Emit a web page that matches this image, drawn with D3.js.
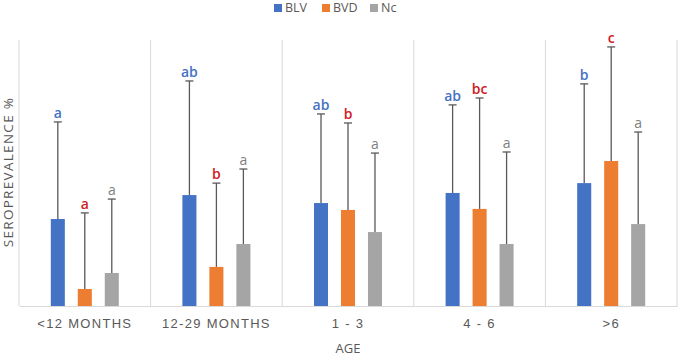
<!DOCTYPE html>
<html>
<head>
<meta charset="utf-8">
<script src="https://cdn.jsdelivr.net/npm/d3@7"></script>
<style>
  body { margin: 0; background: #fff; }
  svg { display: block; font-family: "Open Sans", "Noto Sans", sans-serif; }
</style>
</head>
<body>
<div id="chart"></div>
<script>
const ageGroups = ['<12 MONTHS', '12-29 MONTHS', '1 - 3', '4 - 6', '>6'];
const seriesKeys = ['BLV', 'BVD', 'Nc'];

// seroprevalence (%) per age group, and the + error bar size
const blvValues = [32.7, 41.7, 38.7, 42.5, 46.2];
const bvdValues = [6.4, 14.7, 36.1, 36.5, 54.5];
const ncValues = [12.4, 23.3, 27.8, 23.3, 30.8];

const blvErrors = [36.5, 42.9, 33.5, 33.1, 37.3];
const bvdErrors = [28.6, 31.5, 32.7, 41.7, 42.9];
const ncErrors = [27.8, 28.2, 29.7, 34.6, 34.6];

// significance letters
const blvLetters = ['a', 'ab', 'ab', 'ab', 'b'];
const bvdLetters = ['a', 'b', 'b', 'bc', 'c'];
const ncLetters = ['a', 'a', 'a', 'a', 'a'];

const valuesByKey = { BLV: blvValues, BVD: bvdValues, Nc: ncValues };
const errorsByKey = { BLV: blvErrors, BVD: bvdErrors, Nc: ncErrors };
const lettersByKey = { BLV: blvLetters, BVD: bvdLetters, Nc: ncLetters };

const rows = ageGroups.map((age, i) => ({
    age,
    bars: seriesKeys.map(key => ({
        key,
        value: valuesByKey[key][i],
        error: errorsByKey[key][i],
        letter: lettersByKey[key][i]
    }))
}));

const width = 680;
const height = 357;
const margin = { top: 40, right: 3, bottom: 51, left: 19 };

const colorScale = d3.scaleOrdinal()
    .domain(seriesKeys)
    .range(['#4472C4', '#ED7D31', '#A5A5A5']);

const letterColor = d3.scaleOrdinal()
    .domain(seriesKeys)
    .range(['#4472C4', '#D0201F', '#808080']);

const svg = d3.select('#chart')
    .append('svg')
    .attr('width', width)
    .attr('height', height);

const x0 = d3.scaleBand()
    .domain(ageGroups)
    .range([margin.left, width - margin.right])
    .padding(0);

const half = 34;
const x1 = d3.scaleBand()
    .domain(seriesKeys)
    .range([x0.bandwidth() / 2 - half, x0.bandwidth() / 2 + half])
    .paddingInner(0.48);

const yScale = d3.scaleLinear()
    .domain([0, 100])
    .range([height - margin.bottom, margin.top]);

// vertical category separators
const edges = ageGroups.map(d => x0(d)).concat([width - margin.right]);
svg.append('g')
    .selectAll('line')
    .data(edges)
    .join('line')
    .attr('x1', d => d)
    .attr('x2', d => d)
    .attr('y1', margin.top)
    .attr('y2', yScale(0))
    .attr('stroke', '#d9d9d9')
    .attr('stroke-width', 1);

// x axis
svg.append('g')
    .attr('transform', `translate(0,${yScale(0)})`)
    .call(d3.axisBottom(x0).tickSize(0).tickPadding(13))
    .call(g => g.select('.domain').attr('stroke', '#d9d9d9'))
    .call(g => g.selectAll('.tick text')
        .attr('fill', '#595959')
        .style('font-size', '13px')
        .style('letter-spacing', '1.3px'));

const groups = svg.append('g')
    .selectAll('g')
    .data(rows)
    .join('g')
    .attr('transform', d => `translate(${x0(d.age)},0)`);

groups.selectAll('rect')
    .data(d => d.bars)
    .join('rect')
    .attr('x', d => x1(d.key))
    .attr('y', d => yScale(d.value))
    .attr('width', x1.bandwidth())
    .attr('height', d => yScale(0) - yScale(d.value))
    .attr('fill', d => colorScale(d.key));

// error bars
const errG = groups.selectAll('g.err')
    .data(d => d.bars)
    .join('g')
    .attr('class', 'err');

errG.append('line')
    .attr('x1', d => x1(d.key) + x1.bandwidth() / 2)
    .attr('x2', d => x1(d.key) + x1.bandwidth() / 2)
    .attr('y1', d => yScale(d.value))
    .attr('y2', d => yScale(d.value + d.error))
    .attr('stroke', '#595959')
    .attr('stroke-width', 1.3);

errG.append('line')
    .attr('x1', d => x1(d.key) + x1.bandwidth() / 2 - 4)
    .attr('x2', d => x1(d.key) + x1.bandwidth() / 2 + 4)
    .attr('y1', d => yScale(d.value + d.error))
    .attr('y2', d => yScale(d.value + d.error))
    .attr('stroke', '#595959')
    .attr('stroke-width', 1.3);

errG.append('text')
    .attr('x', d => x1(d.key) + x1.bandwidth() / 2)
    .attr('y', d => yScale(d.value + d.error) - 4)
    .attr('text-anchor', 'middle')
    .attr('fill', d => letterColor(d.key))
    .style('font-size', '14px')
    .style('font-weight', d => d.key === 'Nc' ? 400 : 600)
    .text(d => d.letter);

// legend
const legendX = [274, 322, 370];
const legend = svg.append('g')
    .selectAll('g')
    .data(seriesKeys)
    .join('g')
    .attr('transform', (d, i) => `translate(${legendX[i]},3)`);

legend.append('rect')
    .attr('width', 8)
    .attr('height', 8)
    .attr('y', 1)
    .attr('fill', d => colorScale(d));

legend.append('text')
    .attr('x', 11)
    .attr('y', 5)
    .attr('dy', '0.35em')
    .attr('fill', '#595959')
    .style('font-size', '12.5px')
    .text(d => d);

// axis titles
svg.append('text')
    .attr('x', (margin.left + width - margin.right) / 2)
    .attr('y', 353)
    .attr('text-anchor', 'middle')
    .attr('fill', '#595959')
    .style('font-size', '13px')
    .text('AGE');

svg.append('text')
    .attr('transform', 'rotate(-90)')
    .attr('x', -172)
    .attr('y', 13)
    .attr('text-anchor', 'middle')
    .attr('fill', '#595959')
    .style('font-size', '13.5px')
    .style('letter-spacing', '1.3px')
    .text('SEROPREVALENCE %');
</script>
</body>
</html>
